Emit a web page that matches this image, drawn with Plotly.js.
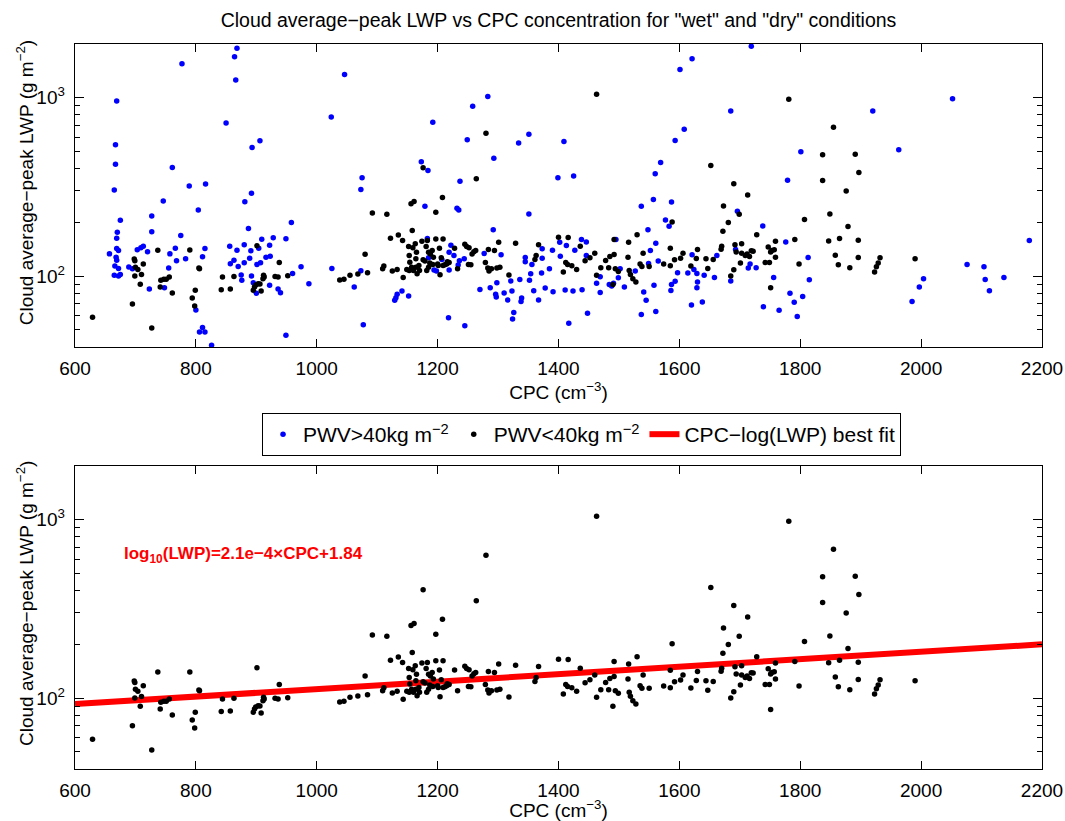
<!DOCTYPE html>
<html>
<head>
<meta charset="utf-8">
<script src="https://cdn.plot.ly/plotly-3.0.1.min.js"></script>
<style>html,body{margin:0;padding:0;background:#fff;}</style>
</head>
<body>
<div id="chart" style="width:1065px;height:821px;"></div>
<script>
// ---- data ----
const blueCPC = [669,667,667,665,675,670,669,669,672,668,669,666,672,665,672,675,657,689,695,703,709,713,720,723,727,727,746,748,755,757,761,766,768,775,777,783,789,804,800,811,816,815,806,811,815,826,850,856,857,863,864,866,868,868,870,875,876,880,880,881,887,889,891,892,893,892,895,900,901,904,906,907,909,916,922,923,928,922,936,940,949,949,958,960,974,987,
1024,1046,1025,1062,1073,1073,1075,1077,1129,1131,1133,1141,1152,1173,1179,1184,1183,1185,1192,1194,1198,1207,1218,1219,1219,1222,1227,1232,1235,1237,1234,1236,1244,1245,1249,1258,1270,1277,1283,1287,1292,1293,1296,1297,1298,1305,1310,1316,1321,1323,1324,1326,1334,1336,1338,1339,1345,1345,1351,1351,1352,1354,1356,1359,1367,1372,1373,1373,1378,1385,1390,1391,1399,1402,1403,1409,1411,1413,1417,
1425,1427,1438,1446,1446,1424,1439,1448,1463,1469,1469,1484,1488,1491,1495,1499,1502,1509,1527,1537,1537,1541,1545,1548,1549,1552,1557,1558,1560,1561,1561,1565,1569,1577,1583,1587,1587,1586,1593,1593,1597,1601,1608,1614,1620,1621,1621,1624,1629,1630,1629,1638,1641,1658,1662,1685,1685,1693,1696,1714,1717,1719,1727,1738,1739,1756,1765,1776,1779,1783,1790,1795,1801,1804,1813,1815,
1920,1963,1985,1997,2004,2052,2076,2104,2106,2113,2137,2179];
const blueLWP = [957,544,424,303.5,205.4,176.1,163,142.8,139,127.6,122.8,113.7,110.4,101,100,102,133.2,112.3,109.9,140.3,143.9,147,136.8,84.6,217,177,263.7,86,110.8,133.2,406,143.3,121.8,168.7,1549,125,319.6,234.9,64.6,128.2,328,142.8,48.6,51.4,48.6,41,721,147,117.2,122.8,1694,1256,1893,139.7,113.2,101.3,94.6,118.7,149.6,261,184.7,126,138.6,291,526,100,91.8,80,116.2,143.3,573,118.7,161,127.6,149,129.3,163.8,88.7,84.6,80.7,161.7,46.6,199.5,103.5,112.8,90.6,
779.6,1349,110.4,86.8,107.1,306,355.5,53.4,73.1,75.7,79,82.5,77.3,437.5,246,391,162.5,126.6,728,108,106.6,123.9,58.3,108,136,149,130.5,240,235,339.8,115.2,121.8,125,52.6,582,895,84.2,133.8,1016,86,182,458,79,76.3,91.8,131.6,80.3,73.5,93.8,82.5,57.5,62.4,558,95.8,72,75.4,127,120.3,624,223,94.6,103,116.2,82.8,73.5,103.9,142.1,126,85.7,109.9,139.7,81.7,355.5,154.9,129.3,568,83.5,148.3,54.4,
363.8,139.7,160.3,155,130.4,82.5,83.9,61.8,91,99.1,81,89.8,87.9,91,160.3,97.9,109.9,86.8,106.6,246,60.8,81.4,73.1,182,117.7,139.1,269,88.7,375,63.2,152.9,121.3,433.5,206.5,190.4,260,89.8,83.1,93.4,575,104.4,1439,665,103.9,68.9,131.6,1652,109,103.5,92.6,86.1,71.6,101,98.3,130.4,843,93.8,141,230.7,110.9,116.7,1944,111.3,191,67.4,98.3,64.3,155,345,80,71.3,59.3,497,76.7,127,95.4,
843,510,71.9,86.8,96.6,986,116.2,112.8,95.8,82.8,98.3,158.2];

const blackCPC = [629,695,698,699,700,699,704,708,710,713,727,737,741,742,747,751,756,761,790,794,798,799,805,806,842,844,857,863,895,897,899,901,903,906,908,911,912,913,931,936,938,952,
1038,1045,1055,1068,1080,1084,1092,1109,1111,1116,1122,1125,1133,1135,1142,1143,1152,1153,1154,1156,1158,1159,1161,1163,1164,1165,1166,1169,1174,1176,1179,1181,1183,1185,1187,1191,1193,1197,1197,1200,1203,1204,1206,1208,1209,1212,1216,1219,1228,1233,1245,1248,1252,1251,1255,1257,1260,1263,1264,1280,1279,1283,1285,1284,1289,1294,1298,1301,1303,1318,1329,1361,1363,1367,1400,1408,1412,1415,
1149,1153,1157,1160,1164,1170,1176,1182,1185,1188,1192,1201,1209,1215,
1416,1422,1430,1436,1444,1452,1460,1463,1463,1470,1478,1483,1485,1490,1492,1492,1494,1499,1515,1516,1517,1519,1523,1528,1530,1535,1538,1540,1550,1574,1585,1585,1588,1592,1602,1606,1619,1628,1630,1644,1647,1652,1656,1669,1670,1672,1673,1681,1685,1690,1690,1692,1694,1699,1701,1703,1703,1709,1713,1712,1716,1719,1722,1728,1742,1747,1749,1751,1751,1753,1757,1759,1759,1781,1791,1798,1807,
1837,1837,1847,1849,1855,1858,1863,1865,1876,1879,1882,1891,1896,1896,1897,1923,1926,1929,1932,1990];
const blackLWP = [58.8,69.8,124.5,122,112,100,109,90,102,117,51.2,139.7,86.8,94.6,96,96,98.7,80.3,140,75.3,68,83.2,111,110,83.9,98.7,84.6,99.6,83.2,86.8,89,147.7,90.6,90.2,82.4,96.6,100.9,98.7,99.6,98.7,119.2,100.4,
95,96,101,102.6,132.7,104.4,225.9,110,114,222,163,106.6,109,170,158.2,98.3,146.5,107.6,119.7,254.6,180,143.9,261.7,151.6,112,136,103,114.7,157,404.4,121.3,146.5,158.2,136,118.2,139,127.7,227.9,161.6,117,143.4,101.7,126.6,276,161.6,115.7,120.3,119.2,143.4,110,150.9,146.5,143.9,116,115.7,133,136.7,139,351.5,632,119,111,106.6,140.9,110,139,110.8,154.9,112,101.3,152.8,123.9,130.5,150,165,105.3,119.2,116,
109,130.5,112,107.6,125,107.6,123.4,107.6,112,133,116,114.7,114.7,117,
164.4,114.2,109,147,121.8,126.6,134.4,1044,101,111.3,122.3,111.3,128.8,89.8,160.3,132,110,106.2,127.7,154.9,107.6,102.2,96.6,92.6,170.2,117,113.3,134.4,113.3,116.7,114.2,143.3,201.2,123.4,126,134.4,113.7,125.5,140.9,125,110.4,417,123.9,141.5,147,178.3,247.2,199.4,100,329.6,108.5,149.6,136.3,221.9,118.2,151.6,134.4,130.5,284.5,133,128.8,138.5,137.9,170.2,119.2,145.7,119.2,86.1,136.3,139,140.3,156.9,127.7,979,160.3,116.7,207.4,
478.7,343.5,157.5,223,682,131,115.7,162.6,299.7,189.5,111.3,482,158.9,127.1,381,105.3,112.8,118.2,126.6,124.9];

// best-fit line end points (log10(LWP)=2.1e-4*CPC+1.84)
const fitCPC = [600, 2200];
const fitLWP = [92.5, 200];

const xTicks = [600, 800, 1000, 1200, 1400, 1600, 1800, 2000, 2200];
const yTicks = [100, 1000];
const yTickText = ['10<sup>2</sup>', '10<sup>3</sup>'];
const yMinor = [40,50,60,70,80,90,200,300,400,500,600,700,800,900,2000];

const FONT = 'Liberation Sans, Arial, Helvetica, sans-serif';
const Y_TITLE = 'Cloud average−peak LWP (g m<sup>−2</sup>)';

const traces = [
  {x: blueCPC, y: blueLWP, xaxis: 'x', yaxis: 'y', type: 'scatter', mode: 'markers',
   name: 'PWV&gt;40kg m<sup>−2</sup>', marker: {color: '#0000ff', size: 5.5}},
  {x: blackCPC, y: blackLWP, xaxis: 'x', yaxis: 'y', type: 'scatter', mode: 'markers',
   name: 'PWV&lt;40kg m<sup>−2</sup>', marker: {color: '#000000', size: 5.5}},
  {x: fitCPC, y: fitLWP, xaxis: 'x2', yaxis: 'y2', type: 'scatter', mode: 'lines',
   name: 'CPC−log(LWP) best fit', line: {color: '#ff0000', width: 6}},
  {x: blackCPC, y: blackLWP, xaxis: 'x2', yaxis: 'y2', type: 'scatter', mode: 'markers',
   showlegend: false, marker: {color: '#000000', size: 5.5}}
];

function xax(domainAnchor) {
  return {
    anchor: domainAnchor, range: [600, 2200], tickvals: xTicks, ticktext: xTicks.map(String),
    ticks: 'inside', ticklen: 8, tickwidth: 1, tickcolor: '#000',
    showline: true, linecolor: '#000', linewidth: 1.3, mirror: 'ticks',
    showgrid: false, zeroline: false,
    tickfont: {size: 19, family: FONT, color: '#000'}, ticklabelstandoff: 4,
    title: {text: 'CPC (cm<sup>−3</sup>)', font: {size: 19, family: FONT, color: '#000'}, standoff: 1}
  };
}
function yax(domain, anchor) {
  return {
    anchor: anchor, domain: domain, type: 'log', range: [Math.log10(40), Math.log10(2000)],
    tickvals: yTicks, ticktext: yTickText,
    ticks: 'inside', ticklen: 9, tickwidth: 1, tickcolor: '#000',
    minor: {tickvals: yMinor, ticks: 'inside', ticklen: 5, tickcolor: '#000', tickwidth: 1, showgrid: false},
    showline: true, linecolor: '#000', linewidth: 1.3, mirror: 'ticks',
    showgrid: false, zeroline: false,
    tickfont: {size: 19, family: FONT, color: '#000'}, ticklabelstandoff: 5
  };
}

const layout = {
  width: 1065, height: 821,
  margin: {l: 75, r: 23, t: 44, b: 52},
  paper_bgcolor: '#fff', plot_bgcolor: '#fff',
  font: {family: FONT, color: '#000'},
  title: {text: 'Cloud average−peak LWP vs CPC concentration for "wet" and "dry" conditions',
          x: 0.5, xref: 'paper', xanchor: 'center', y: 1 - 20/821, yanchor: 'middle',
          font: {size: 19.5, family: FONT, color: '#000'}},
  xaxis: xax('y'),
  yaxis: yax([0.582, 1], 'x'),
  xaxis2: xax('y2'),
  yaxis2: yax([0, 0.418], 'x2'),
  showlegend: true,
  legend: {orientation: 'h', x: 0.1934, y: 0.491, xanchor: 'left', yanchor: 'top',
           bordercolor: '#000', borderwidth: 1, bgcolor: '#fff',
           font: {size: 21, family: FONT, color: '#000'}},
  annotations: [
    {xref: 'x2', yref: 'y2', x: 678, y: 2.804, xanchor: 'left', yanchor: 'middle', showarrow: false,
     text: '<b>log<sub>10</sub>(LWP)=2.1e−4×CPC+1.84</b>',
     font: {size: 17, family: FONT, color: '#ff0000'}},
    {xref: 'paper', yref: 'paper', x: -0.0517, y: 0.808, xanchor: 'center', yanchor: 'middle',
     textangle: -90, showarrow: false, text: Y_TITLE, font: {size: 19, family: FONT, color: '#000'}},
    {xref: 'paper', yref: 'paper', x: -0.0517, y: 0.2276, xanchor: 'center', yanchor: 'middle',
     textangle: -90, showarrow: false, text: Y_TITLE, font: {size: 19, family: FONT, color: '#000'}}
  ],
  shapes: [{type: 'line', xref: 'paper', yref: 'paper', x0: 0.396, x1: 0.396, y0: 0.436, y1: 0.491,
            line: {color: '#000', width: 1}}]
};

Plotly.newPlot('chart', traces, layout, {displayModeBar: false, staticPlot: true});
</script>
</body>
</html>
